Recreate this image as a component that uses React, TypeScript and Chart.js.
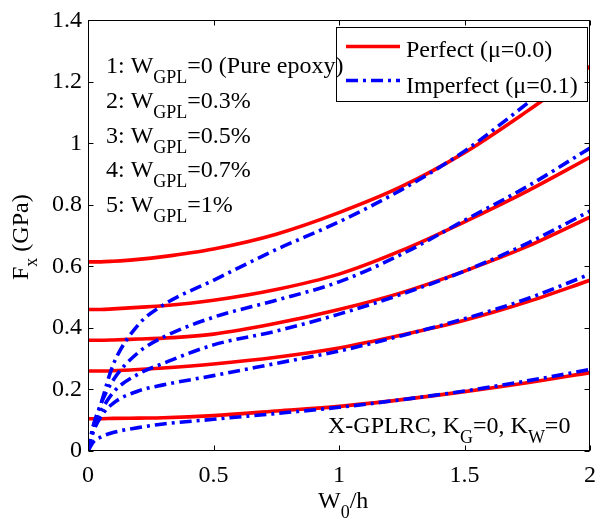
import React, { useEffect, useRef } from 'react';
import { Chart, registerables } from 'chart.js';

Chart.register(...registerables);

// ---- data ----
const xValues = [0, 0.02, 0.05, 0.1, 0.2, 0.3, 0.5, 0.75, 1.0, 1.25, 1.5, 1.75, 2.0];
const perfect1 = [0.615, 0.615, 0.615, 0.617, 0.623, 0.632, 0.657, 0.705, 0.775, 0.86, 0.97, 1.105, 1.25];
const perfect2 = [0.46, 0.46, 0.46, 0.462, 0.467, 0.472, 0.49, 0.525, 0.575, 0.652, 0.745, 0.845, 0.955];
const perfect3 = [0.36, 0.36, 0.36, 0.361, 0.364, 0.367, 0.38, 0.415, 0.46, 0.515, 0.585, 0.665, 0.76];
const perfect4 = [0.26, 0.26, 0.26, 0.261, 0.265, 0.27, 0.283, 0.305, 0.335, 0.377, 0.425, 0.485, 0.555];
const perfect5 = [0.105, 0.105, 0.105, 0.106, 0.107, 0.108, 0.115, 0.13, 0.145, 0.167, 0.193, 0.222, 0.255];
const imperfect1 = [0, 0.08, 0.15, 0.28, 0.41, 0.475, 0.555, 0.655, 0.745, 0.85, 0.975, 1.13, 1.29];
const imperfect2 = [0, 0.075, 0.15, 0.23, 0.32, 0.37, 0.435, 0.49, 0.55, 0.64, 0.75, 0.86, 0.985];
const imperfect3 = [0, 0.065, 0.125, 0.19, 0.25, 0.285, 0.345, 0.39, 0.445, 0.51, 0.585, 0.675, 0.78];
const imperfect4 = [0, 0.06, 0.11, 0.155, 0.195, 0.215, 0.245, 0.285, 0.325, 0.375, 0.43, 0.495, 0.575];
const imperfect5 = [0, 0.028, 0.045, 0.06, 0.076, 0.088, 0.103, 0.122, 0.142, 0.167, 0.195, 0.228, 0.265];

const xTicks = [0, 0.5, 1, 1.5, 2];
const yTicks = [0, 0.2, 0.4, 0.6, 0.8, 1, 1.2, 1.4];
const legendLabels = ['Perfect (\u03bc=0.0)', 'Imperfect (\u03bc=0.1)'];
const noteRows = [
  ['1: W', 'GPL', '=0 (Pure epoxy)'],
  ['2: W', 'GPL', '=0.3%'],
  ['3: W', 'GPL', '=0.5%'],
  ['4: W', 'GPL', '=0.7%'],
  ['5: W', 'GPL', '=1%'],
];
const caseLabel = ['X-GPLRC, K', 'G', '=0, K', 'W', '=0'];
const xTitle = ['W', '0', '/h'];
const yTitle = ['F', 'x', ' (GPa)'];

const RED = '#ff0000';
const BLUE = '#0000ff';
const SERIF = "'Liberation Serif', 'Times New Roman', serif";
const LINE_W = 3.6;
const DASH = [12, 5, 3, 5];

const toPts = (ys: number[]) => ys.map((y, i) => ({ x: xValues[i], y }));

function drawRich(ctx: CanvasRenderingContext2D, x: number, y: number, parts: string[], size = 24, subSize = 18, subDy = 10) {
  let cx = x;
  parts.forEach((t, i) => {
    const sub = i % 2 === 1;
    ctx.font = `${sub ? subSize : size}px ${SERIF}`;
    ctx.fillText(t, cx, y + (sub ? subDy : 0));
    cx += ctx.measureText(t).width;
  });
  return cx;
}

export default function App() {
  const ref = useRef<HTMLCanvasElement>(null);

  useEffect(() => {
    const canvas = ref.current!;
    const decor = {
      id: 'matlabDecor',
      afterDraw(chart: any) {
        const { ctx, chartArea: a, scales } = chart;
        ctx.save();

        // legend box (white, over the curves)
        ctx.fillStyle = '#fff';
        ctx.fillRect(336, 27, 251, 74);
        ctx.strokeStyle = '#000';
        ctx.lineWidth = 1;
        ctx.strokeRect(336.5, 27.5, 251, 74);
        ctx.lineWidth = LINE_W;
        ctx.strokeStyle = RED;
        ctx.setLineDash([]);
        ctx.beginPath(); ctx.moveTo(346, 46.5); ctx.lineTo(400, 46.5); ctx.stroke();
        ctx.strokeStyle = BLUE;
        ctx.setLineDash(DASH);
        ctx.beginPath(); ctx.moveTo(346, 80.5); ctx.lineTo(400, 80.5); ctx.stroke();
        ctx.setLineDash([]);
        ctx.fillStyle = '#000';
        ctx.textBaseline = 'alphabetic';
        ctx.textAlign = 'left';
        ctx.font = `24px ${SERIF}`;
        ctx.fillText(legendLabels[0], 406, 56.7);
        ctx.fillText(legendLabels[1], 406, 92.5);

        // frame and inward ticks
        ctx.strokeStyle = '#000';
        ctx.lineWidth = 1;
        const L = Math.round(a.left) + 0.5, R = Math.round(a.right) - 0.5;
        const T = Math.round(a.top) + 0.5, B = Math.round(a.bottom) - 0.5;
        ctx.strokeRect(L, T, R - L, B - T);
        const tl = 5;
        ctx.beginPath();
        xTicks.forEach((v) => {
          const px = Math.round(scales.x.getPixelForValue(v)) + 0.5;
          ctx.moveTo(px, B); ctx.lineTo(px, B - tl);
          ctx.moveTo(px, T); ctx.lineTo(px, T + tl);
        });
        yTicks.forEach((v) => {
          const py = Math.round(scales.y.getPixelForValue(v)) + 0.5;
          ctx.moveTo(L, py); ctx.lineTo(L + tl, py);
          ctx.moveTo(R, py); ctx.lineTo(R - tl, py);
        });
        ctx.stroke();

        ctx.fillStyle = '#000';
        // notes
        noteRows.forEach((row, i) => drawRich(ctx, 106, 73.3 + 34.6 * i, row));
        // case label
        drawRich(ctx, 328, 433, caseLabel);

        // axis titles
        drawRich(ctx, 318, 508, xTitle);
        ctx.save();
        ctx.translate(27.5, 280);
        ctx.rotate(-Math.PI / 2);
        drawRich(ctx, 0, 0, yTitle, 24, 18, 9);
        ctx.restore();
        ctx.restore();
      },
    };

    const mk = (label: string, ys: number[], color: string, dashed: boolean) => ({
      label,
      data: toPts(ys),
      borderColor: color,
      backgroundColor: color,
      borderWidth: LINE_W,
      borderDash: dashed ? DASH : [],
      pointRadius: 0,
      fill: false,
      cubicInterpolationMode: 'monotone' as const,
    });

    const chart = new Chart(canvas, {
      type: 'line',
      data: {
        datasets: [
          mk('Imperfect 1', imperfect1, BLUE, true),
          mk('Imperfect 2', imperfect2, BLUE, true),
          mk('Imperfect 3', imperfect3, BLUE, true),
          mk('Imperfect 4', imperfect4, BLUE, true),
          mk('Imperfect 5', imperfect5, BLUE, true),
          mk('Perfect 1', perfect1, RED, false),
          mk('Perfect 2', perfect2, RED, false),
          mk('Perfect 3', perfect3, RED, false),
          mk('Perfect 4', perfect4, RED, false),
          mk('Perfect 5', perfect5, RED, false),
        ],
      },
      options: {
        animation: false,
        responsive: false,
        layout: { padding: { left: 0, right: 5, top: 20, bottom: 0 } },
        plugins: { legend: { display: false }, tooltip: { enabled: false } },
        scales: {
          x: {
            type: 'linear',
            min: 0,
            max: 2,
            afterFit: (s: any) => { s.height = 69; },
            afterBuildTicks: (s: any) => { s.ticks = xTicks.map((v) => ({ value: v })); },
            grid: { display: false, drawTicks: false },
            border: { display: false },
            ticks: {
              color: '#000',
              font: { family: SERIF, size: 24 },
              padding: 10,
              maxRotation: 0,
              autoSkip: false,
              callback: (v: any) => String(Number(Number(v).toFixed(2))),
            },
          },
          y: {
            type: 'linear',
            min: 0,
            max: 1.4,
            afterFit: (s: any) => { s.width = 88; },
            afterBuildTicks: (s: any) => { s.ticks = yTicks.map((v) => ({ value: v })); },
            grid: { display: false, drawTicks: false },
            border: { display: false },
            ticks: {
              color: '#000',
              font: { family: SERIF, size: 24 },
              padding: 6,
              autoSkip: false,
              callback: (v: any) => String(Number(Number(v).toFixed(2))),
            },
          },
        },
      },
      plugins: [decor],
    });
    return () => chart.destroy();
  }, []);

  return (
    <div style={{ position: 'fixed', left: 0, top: 0, width: 606, height: 520, background: '#fff' }}>
      <canvas ref={ref} width={606} height={520} style={{ display: 'block' }} />
    </div>
  );
}
